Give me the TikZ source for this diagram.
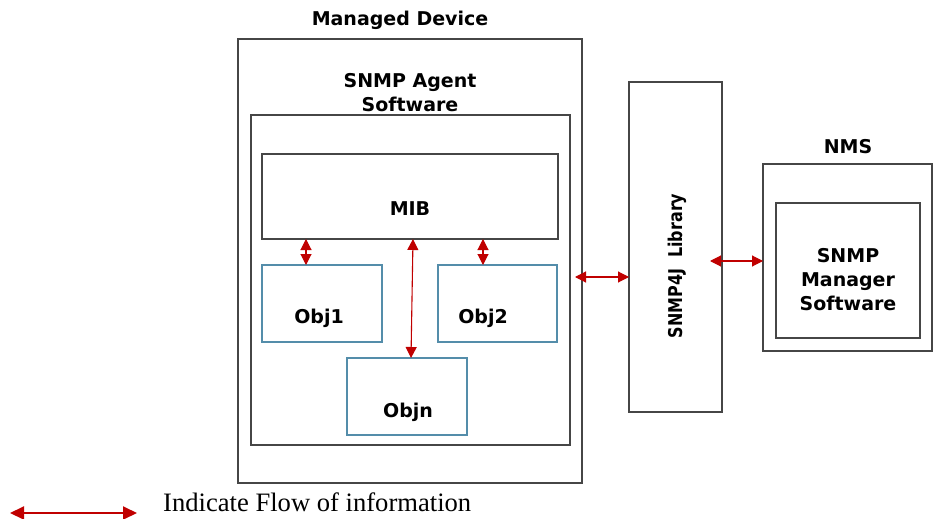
\documentclass[tikz,border=0pt]{standalone}
\usepackage{fontspec}
\setmainfont{Liberation Serif}
\newfontfamily\labfont{DejaVu Sans}
\usetikzlibrary{arrows.meta}
\definecolor{flowred}{RGB}{192,0,0}
\definecolor{objblue}{RGB}{84,141,170}
\definecolor{boxgray}{RGB}{70,70,70}
\tikzset{
  box/.style={draw=boxgray, line width=1.2pt, inner sep=0pt, outer sep=0pt, fill=none},
  objbox/.style={draw=objblue, line width=1.1pt, inner sep=0pt, outer sep=0pt},
  lab/.style={font=\labfont\bfseries\fontsize{19}{24}\selectfont, align=center, inner sep=0pt},
  flow/.style={draw=flowred, line width=1.1pt, {Triangle[length=11pt,width=11pt]}-{Triangle[length=11pt,width=11pt]}},
  legflow/.style={draw=flowred, line width=2pt, {Triangle[length=14pt,width=13pt]}-{Triangle[length=14pt,width=13pt]}}
}
\begin{document}
\begin{tikzpicture}[x=1pt,y=-1pt]
\path[use as bounding box] (0,0) rectangle (935,519);
% boxes
\node[box, minimum width=344pt, minimum height=444pt] (dev) at (410,261) {};
\node[box, minimum width=319pt, minimum height=330pt] (agent) at (410.5,280) {};
\node[box, minimum width=296pt, minimum height=85pt] (mib) at (410,196.5) {};
\node[objbox, minimum width=120pt, minimum height=77pt] (obj1) at (322,303.5) {};
\node[objbox, minimum width=119pt, minimum height=77pt] (obj2) at (497.5,303.5) {};
\node[objbox, minimum width=120pt, minimum height=77pt] (objn) at (407,396.5) {};
\node[box, minimum width=93pt, minimum height=330pt] (lib) at (675.5,247) {};
\node[box, minimum width=169pt, minimum height=187pt] (nms) at (847.5,257.5) {};
\node[box, minimum width=144pt, minimum height=135pt] (mgr) at (848,270.5) {};
% labels
\node[lab] (devlab) at (400,20) {Managed Device};
\node[lab] (agentlab) at (410,93) {SNMP Agent\\Software};
\node[lab] (miblab) at (410,209) {MIB};
\node[lab] (obj1lab) at (319,318) {Obj1};
\node[lab] (obj2lab) at (483,318) {Obj2};
\node[lab] (objnlab) at (408,412) {Objn};
\node[lab, rotate=90] (liblab) at (677,266) {\scalebox{0.84}[1]{SNMP4J\ \ Library}};
\node[lab] (nmslab) at (848,147) {NMS};
\node[lab] (mgrlab) at (848,280) {SNMP\\Manager\\Software};
% connectors
\draw[flow] ([xshift=-16pt]obj1.north |- mib.south) -- ([xshift=-16pt]obj1.north);
\draw[flow] ([xshift=-14.5pt]obj2.north |- mib.south) -- ([xshift=-14.5pt]obj2.north);
\draw[flow] ([xshift=6pt]objn.north |- mib.south) -- ([xshift=4pt]objn.north);
\draw[flow] ([xshift=5pt,yshift=3pt]agent.east) -- ([yshift=-30pt]lib.west);
\draw[flow] ([xshift=-12pt,yshift=-14pt]lib.east) -- ([yshift=-3.5pt]nms.west);
% legend
\coordinate (la) at (10,513);
\coordinate (lb) at (137,513);
\draw[legflow] (la) -- (lb);
\node[anchor=base west, inner sep=0pt, font=\fontsize{26.6}{30}\selectfont] (legtext) at (163,511) {Indicate Flow of information};
\end{tikzpicture}
\end{document}
